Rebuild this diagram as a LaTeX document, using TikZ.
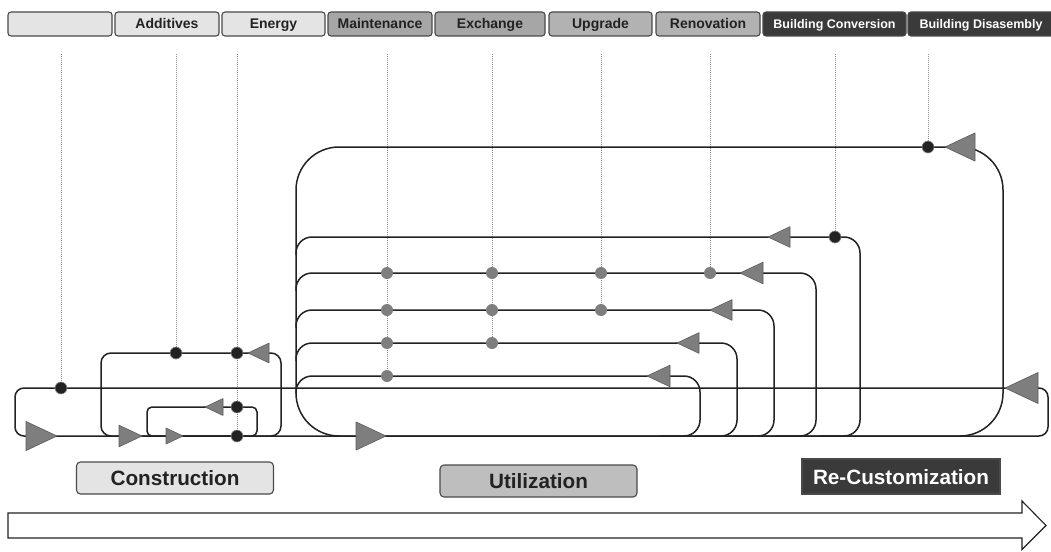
\documentclass[tikz,border=0pt]{standalone}
\usepackage{fontspec}
\setsansfont{Liberation Sans}
\usepackage{xcolor}
\definecolor{Ink}{HTML}{222222}
\definecolor{Rim}{HTML}{4A4A4A}
\definecolor{Pale}{HTML}{E4E4E4}
\definecolor{Mid}{HTML}{A6A6A6}
\definecolor{MidLight}{HTML}{B2B2B2}
\definecolor{Silver}{HTML}{BEBEBE}
\definecolor{Deep}{HTML}{3A3A3A}
\definecolor{TipGray}{HTML}{7E7E7E}
\definecolor{TipEdge}{HTML}{5C5C5C}
\definecolor{Guide}{HTML}{8E8E8E}
% triangle on a flow line: x, y of the tip, signed length (negative points left)
\newcommand{\flowtip}[3]{\filldraw[fill=TipGray,draw=TipEdge,line width=0.6pt,line join=round] (#1,#2) -- ++({-(#3)},{-0.47*abs(#3)}) -- ++(0,{0.94*abs(#3)}) -- cycle;}

\begin{document}
\begin{tikzpicture}[x=1pt,y=-1pt,every node/.style={font=\sffamily\bfseries,text=Ink},
  stage/.style={draw=Rim,line width=1.1pt,rounded corners=3pt,minimum height=24pt,inner sep=0pt,text height=10pt,text depth=0pt,font=\sffamily\bfseries\fontsize{14}{16}\selectfont},
  deepstage/.style={stage,fill=Deep,text=white,text height=9pt,font=\sffamily\bfseries\fontsize{12.5}{14}\selectfont},
  phase/.style={draw=Rim,line width=1.1pt,rounded corners=4pt,minimum height=32pt,minimum width=197pt,inner sep=0pt,text height=15pt,text depth=0pt,font=\sffamily\bfseries\fontsize{20.7}{24}\selectfont},
  flow/.style={draw=Ink,line width=1.5pt},
  guide/.style={draw=Guide,line width=1pt,densely dotted},
  darkdot/.style={circle,fill=Ink,draw=Guide,line width=0.6pt,minimum size=12pt,inner sep=0pt},
  greydot/.style={circle,fill=TipGray,minimum size=12pt,inner sep=0pt}]
\useasboundingbox (0,0) rectangle (1051,551);
\fill[white] (0,0) rectangle (1051,551);
% stages on top
\node[stage,fill=Pale,minimum width=104pt] (empty) at (60,24) {};
\node[stage,fill=Pale,minimum width=104pt] (additives) at (167,24) {Additives};
\node[stage,fill=Pale,minimum width=103pt] (energy) at (273.5,24) {Energy};
\node[stage,fill=Mid,minimum width=104pt] (maintenance) at (380,24) {Maintenance};
\node[stage,fill=Mid,minimum width=110pt] (exchange) at (490,24) {Exchange};
\node[stage,fill=MidLight,minimum width=103pt] (upgrade) at (600.5,24) {Upgrade};
\node[stage,fill=MidLight,minimum width=104pt] (renovation) at (708,24) {Renovation};
\node[deepstage,minimum width=143pt] (conversion) at (834.5,24) {Building Conversion};
\node[deepstage,minimum width=146pt] (disassembly) at (981,24) {Building Disasembly};
% dotted guides
\foreach \n/\gx/\gy in {em/61/388,ad/176/353,en/237/436,mt/387/376,ex/492/343,up/601/310,rn/710/273,bc/835/237,bd/928/147}
  {\coordinate (\n top) at (\gx,54); \coordinate (\n end) at (\gx,\gy); \draw[guide] (\n top) -- (\n end);}
% construction loops
\draw[flow,rounded corners=9pt] (15,388) rectangle (1048,436);
\draw[flow,rounded corners=10pt] (101,353) rectangle (281,436);
\draw[flow,rounded corners=5pt] (147,407) rectangle (257,436);
% utilization loops
\draw[flow,rounded corners=43pt] (296,147) rectangle (1003,436);
\foreach \ly/\rx in {237/860,273/816,310/774,343/737,376/700}
  \draw[flow,rounded corners=16pt] (296,\ly+18) -- (296,\ly) -- (\rx,\ly) -- (\rx,436) -- (\rx-40,436);
% tips
\flowtip{57}{436}{31}\flowtip{142}{436}{23}\flowtip{183}{436}{17}\flowtip{386}{436}{30}
\flowtip{205}{407}{-18}\flowtip{248}{353}{-21}\flowtip{945}{147}{-30}\flowtip{1005}{388}{-33}
\flowtip{768}{237}{-22}\flowtip{740}{273}{-23}\flowtip{710}{310}{-22}\flowtip{677}{343}{-22}\flowtip{647}{376}{-23}
% dots
\foreach \px/\py [count=\i] in {61/388,176/353,237/353,237/407,237/436,835/237,928/147}
  \node[darkdot] (dk\i) at (\px,\py) {};
\foreach \px/\py [count=\i] in {387/273,387/310,387/343,387/376,492/273,492/310,492/343,601/273,601/310,710/273}
  \node[greydot] (gy\i) at (\px,\py) {};
% phases
\node[phase,fill=Pale] (construction) at (175,478) {Construction};
\node[phase,fill=Silver] (utilization) at (538.5,481) {Utilization};
\node[phase,fill=Deep,text=white,rounded corners=0pt,minimum width=198pt,minimum height=35pt] (recustom) at (901,476.5) {Re-Customization};
\draw[line width=1.1pt,draw=Ink,fill=white,line join=miter] (8,513) -- (1022,513) -- (1022,501) -- (1046,525.5) -- (1022,549.5) -- (1022,538) -- (8,538) -- cycle;
\end{tikzpicture}
\end{document}
